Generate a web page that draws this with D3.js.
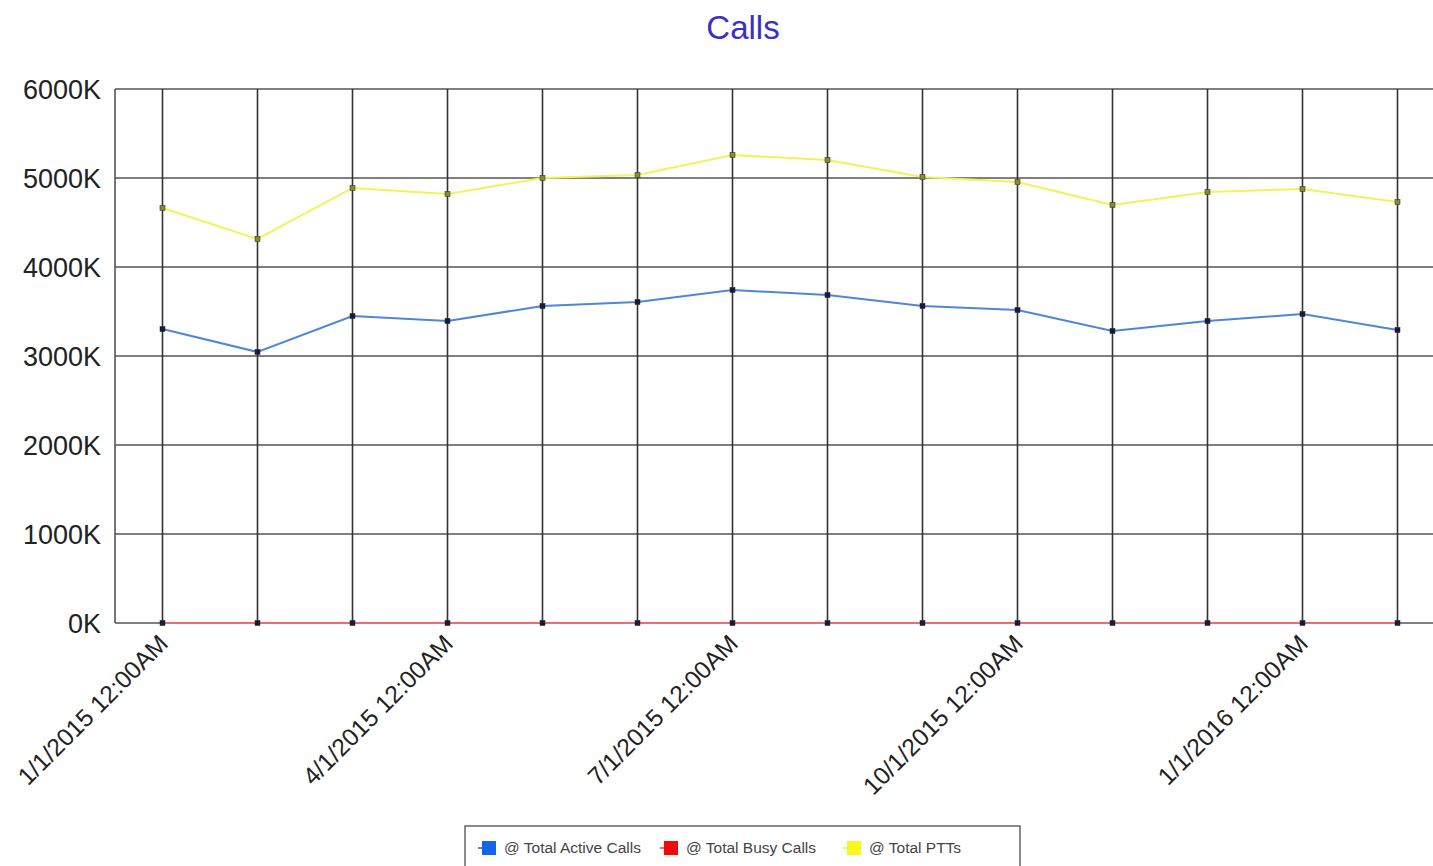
<!DOCTYPE html>
<html>
<head>
<meta charset="utf-8">
<script src="https://cdnjs.cloudflare.com/ajax/libs/d3/7.8.5/d3.min.js"></script>
<style>
  body { margin: 0; background: #fff; overflow: hidden; }
  text { font-family: "Liberation Sans", Arial, sans-serif; }
</style>
</head>
<body>
<div id="chart"></div>
<script>
const width = 1433;
const height = 866;

// monthly samples
const months = ["1/1/2015", "2/1/2015", "3/1/2015", "4/1/2015", "5/1/2015", "6/1/2015", "7/1/2015",
  "8/1/2015", "9/1/2015", "10/1/2015", "11/1/2015", "12/1/2015", "1/1/2016", "2/1/2016"];
const activeCalls = [3303, 3045, 3449, 3393, 3562, 3607, 3742, 3685, 3562, 3517, 3281, 3393, 3472, 3292];
const busyCalls = [0, 0, 0, 0, 0, 0, 0, 0, 0, 0, 0, 0, 0, 0];
const totalPTTs = [4663, 4315, 4888, 4820, 5000, 5034, 5258, 5202, 5011, 4955, 4697, 4843, 4876, 4730];
const yTicks = [0, 1000, 2000, 3000, 4000, 5000, 6000];
const labelEvery = 3;

const series = [
  { name: "@ Total Active Calls", values: activeCalls, color: "#4f86d6", key: "#1565e8" },
  { name: "@ Total Busy Calls", values: busyCalls, color: "#f06a7a", key: "#f20a0a" },
  { name: "@ Total PTTs", values: totalPTTs, color: "#f2f25a", key: "#f8f820" }
];

const margin = { top: 89, left: 115 };
const plotBottom = 623;
const step = 95;

const svg = d3.select("#chart").append("svg")
  .attr("width", width)
  .attr("height", height);

const x = d3.scalePoint()
  .domain(months)
  .range([margin.left + step / 2, margin.left + step / 2 + step * (months.length - 1)]);

const y = d3.scaleLinear()
  .domain([0, 6000])
  .range([plotBottom, margin.top]);

const plotRight = x(months[months.length - 1]) + step / 2;

// title
svg.append("text")
  .attr("x", 743)
  .attr("y", 39)
  .attr("text-anchor", "middle")
  .style("font-size", "33px")
  .style("fill", "#3b2fc4")
  .text("Calls");

// horizontal grid
svg.append("g")
  .selectAll("line")
  .data(yTicks)
  .join("line")
  .attr("x1", margin.left)
  .attr("x2", plotRight)
  .attr("y1", d => y(d))
  .attr("y2", d => y(d))
  .style("stroke", "#555")
  .style("stroke-width", 1.6);

// vertical grid
svg.append("g")
  .selectAll("line")
  .data(months)
  .join("line")
  .attr("x1", d => x(d))
  .attr("x2", d => x(d))
  .attr("y1", margin.top)
  .attr("y2", plotBottom)
  .style("stroke", "#333")
  .style("stroke-width", 1.6);

// left border
svg.append("line")
  .attr("x1", margin.left).attr("x2", margin.left)
  .attr("y1", margin.top).attr("y2", plotBottom)
  .style("stroke", "#555").style("stroke-width", 1.6);

// y labels
svg.append("g")
  .selectAll("text")
  .data(yTicks)
  .join("text")
  .attr("x", 101)
  .attr("y", d => y(d) + 10)
  .attr("text-anchor", "end")
  .style("font-size", "27px")
  .style("fill", "#222")
  .text(d => d + "K");

// x labels
svg.append("g")
  .selectAll("text")
  .data(months.filter((d, i) => i % labelEvery === 0))
  .join("text")
  .attr("transform", d => "translate(" + (x(d) + 7) + "," + (plotBottom + 22) + ") rotate(-45)")
  .attr("text-anchor", "end")
  .style("font-size", "24.5px")
  .style("fill", "#222")
  .text(d => d + " 12:00AM");

const line = d3.line()
  .x((d, i) => x(months[i]))
  .y(d => y(d));

series.forEach(s => {
  svg.append("path")
    .datum(s.values)
    .attr("d", line)
    .style("fill", "none")
    .style("stroke", s.color)
    .style("stroke-width", 2);
  svg.append("g")
    .selectAll("rect")
    .data(s.values)
    .join("rect")
    .attr("x", (d, i) => x(months[i]) - 2.5)
    .attr("y", d => y(d) - 2.5)
    .attr("width", 5)
    .attr("height", 5)
    .style("fill", s.name === "@ Total PTTs" ? "#8a8a30" : "#1a1a40")
    .style("stroke", "#222")
    .style("stroke-width", 0.5);
});

// legend
const legend = svg.append("g");
legend.append("rect")
  .attr("x", 465).attr("y", 826)
  .attr("width", 555).attr("height", 50)
  .style("fill", "#fff")
  .style("stroke", "#666")
  .style("stroke-width", 1.5);

const legendX = [478, 660, 843];
series.forEach((s, i) => {
  const g = legend.append("g").attr("transform", "translate(" + legendX[i] + ",848)");
  g.append("line")
    .attr("x1", 0).attr("x2", 14)
    .attr("y1", 0).attr("y2", 0)
    .style("stroke", s.color).style("stroke-width", 2);
  g.append("rect")
    .attr("x", 4).attr("y", -7)
    .attr("width", 14).attr("height", 14)
    .style("fill", s.key);
  g.append("text")
    .attr("x", 26).attr("y", 5)
    .style("font-size", "15.5px")
    .style("fill", "#444")
    .text(s.name);
});
</script>
</body>
</html>
